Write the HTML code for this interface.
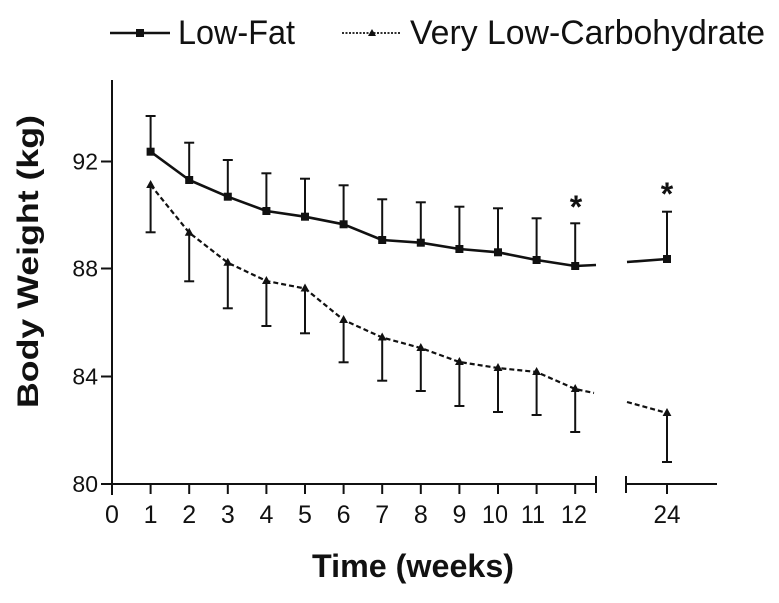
<!DOCTYPE html>
<html>
<head>
<meta charset="utf-8">
<style>
  html,body{margin:0;padding:0;background:#fff;}
  body{width:779px;height:603px;overflow:hidden;}
  svg{display:block;font-family:"Liberation Sans",Arial,sans-serif;}
</style>
</head>
<body>
<svg width="779" height="603" viewBox="0 0 779 603" xmlns="http://www.w3.org/2000/svg">
  <rect width="779" height="603" fill="#fff"/>

  <!-- Legend -->
  <line x1="110" y1="33" x2="170" y2="33" stroke="#111" stroke-width="2.5"/>
  <rect x="136" y="29" width="8" height="8" fill="#111"/>
  <text x="178" y="44" font-size="34" fill="#111" textLength="117" lengthAdjust="spacingAndGlyphs">Low-Fat</text>
  <line x1="342" y1="33" x2="400" y2="33" stroke="#111" stroke-width="1.8" stroke-dasharray="2,1.5"/>
  <polygon points="372,29 376,36 368,36" fill="#111"/>
  <text x="410" y="44" font-size="34" fill="#111" textLength="355" lengthAdjust="spacingAndGlyphs">Very Low-Carbohydrate</text>

  <!-- Axes -->
  <g stroke="#111" stroke-width="2" fill="none">
    <line x1="112" y1="80" x2="112" y2="495"/>
    <line x1="101" y1="484" x2="596" y2="484"/>
    <line x1="596" y1="476" x2="596" y2="493"/>
    <line x1="626" y1="484" x2="717" y2="484"/>
    <line x1="626" y1="476" x2="626" y2="493"/>
    <line x1="101" y1="161.5" x2="112" y2="161.5"/>
    <line x1="101" y1="268.5" x2="112" y2="268.5"/>
    <line x1="101" y1="376.5" x2="112" y2="376.5"/>
    <line x1="150.6" y1="484" x2="150.6" y2="494"/>
    <line x1="189.2" y1="484" x2="189.2" y2="494"/>
    <line x1="227.8" y1="484" x2="227.8" y2="494"/>
    <line x1="266.4" y1="484" x2="266.4" y2="494"/>
    <line x1="305" y1="484" x2="305" y2="494"/>
    <line x1="343.6" y1="484" x2="343.6" y2="494"/>
    <line x1="382.2" y1="484" x2="382.2" y2="494"/>
    <line x1="420.8" y1="484" x2="420.8" y2="494"/>
    <line x1="459.4" y1="484" x2="459.4" y2="494"/>
    <line x1="498" y1="484" x2="498" y2="494"/>
    <line x1="536.6" y1="484" x2="536.6" y2="494"/>
    <line x1="575.2" y1="484" x2="575.2" y2="494"/>
    <line x1="667" y1="484" x2="667" y2="494"/>
  </g>

  <!-- Y tick labels -->
  <g font-size="23" fill="#111" text-anchor="end">
    <text x="98" y="169.5">92</text>
    <text x="98" y="276.5">88</text>
    <text x="98" y="384.5">84</text>
    <text x="98" y="492">80</text>
  </g>

  <!-- X tick labels -->
  <g font-size="25" fill="#111" text-anchor="middle">
    <text x="112" y="523">0</text>
    <text x="150.6" y="523">1</text>
    <text x="189.2" y="523">2</text>
    <text x="227.8" y="523">3</text>
    <text x="266.4" y="523">4</text>
    <text x="305" y="523">5</text>
    <text x="343.6" y="523">6</text>
    <text x="382.2" y="523">7</text>
    <text x="420.8" y="523">8</text>
    <text x="459.4" y="523">9</text>
    <text x="495" y="523" textLength="26" lengthAdjust="spacingAndGlyphs">10</text>
    <text x="533" y="523" textLength="24" lengthAdjust="spacingAndGlyphs">11</text>
    <text x="574" y="523" textLength="26" lengthAdjust="spacingAndGlyphs">12</text>
    <text x="667" y="523" textLength="27" lengthAdjust="spacingAndGlyphs">24</text>
  </g>

  <!-- Axis titles -->
  <text x="312" y="577" font-size="32" font-weight="bold" fill="#111" textLength="202" lengthAdjust="spacingAndGlyphs">Time (weeks)</text>
  <text transform="translate(38,408) rotate(-90)" x="0" y="0" font-size="30" font-weight="bold" fill="#111" textLength="293" lengthAdjust="spacingAndGlyphs">Body Weight (kg)</text>

  <!-- Low-Fat error bars (up) -->
  <g stroke="#111" stroke-width="2">
    <line x1="150.6" y1="151.7" x2="150.6" y2="116"/><line x1="145.6" y1="116" x2="155.6" y2="116"/>
    <line x1="189.2" y1="180" x2="189.2" y2="142.7"/><line x1="184.2" y1="142.7" x2="194.2" y2="142.7"/>
    <line x1="227.8" y1="196.7" x2="227.8" y2="160"/><line x1="222.8" y1="160" x2="232.8" y2="160"/>
    <line x1="266.4" y1="211" x2="266.4" y2="173.3"/><line x1="261.4" y1="173.3" x2="271.4" y2="173.3"/>
    <line x1="305" y1="216.7" x2="305" y2="178.7"/><line x1="300" y1="178.7" x2="310" y2="178.7"/>
    <line x1="343.6" y1="224.3" x2="343.6" y2="185.3"/><line x1="338.6" y1="185.3" x2="348.6" y2="185.3"/>
    <line x1="382.2" y1="240" x2="382.2" y2="199.3"/><line x1="377.2" y1="199.3" x2="387.2" y2="199.3"/>
    <line x1="420.8" y1="242.7" x2="420.8" y2="202.3"/><line x1="415.8" y1="202.3" x2="425.8" y2="202.3"/>
    <line x1="459.4" y1="249" x2="459.4" y2="206.7"/><line x1="454.4" y1="206.7" x2="464.4" y2="206.7"/>
    <line x1="498" y1="252.3" x2="498" y2="208.3"/><line x1="493" y1="208.3" x2="503" y2="208.3"/>
    <line x1="536.6" y1="260" x2="536.6" y2="218.3"/><line x1="531.6" y1="218.3" x2="541.6" y2="218.3"/>
    <line x1="575.2" y1="266" x2="575.2" y2="223.3"/><line x1="570.2" y1="223.3" x2="580.2" y2="223.3"/>
    <line x1="667" y1="259" x2="667" y2="211.7"/><line x1="662" y1="211.7" x2="672" y2="211.7"/>
  </g>

  <!-- VLC error bars (down) -->
  <g stroke="#111" stroke-width="2">
    <line x1="150.6" y1="185" x2="150.6" y2="232.3"/><line x1="145.6" y1="232.3" x2="155.6" y2="232.3"/>
    <line x1="189.2" y1="232.7" x2="189.2" y2="281.3"/><line x1="184.2" y1="281.3" x2="194.2" y2="281.3"/>
    <line x1="227.8" y1="262.7" x2="227.8" y2="308.3"/><line x1="222.8" y1="308.3" x2="232.8" y2="308.3"/>
    <line x1="266.4" y1="281" x2="266.4" y2="326"/><line x1="261.4" y1="326" x2="271.4" y2="326"/>
    <line x1="305" y1="288.5" x2="305" y2="333.3"/><line x1="300" y1="333.3" x2="310" y2="333.3"/>
    <line x1="343.6" y1="320" x2="343.6" y2="362.3"/><line x1="338.6" y1="362.3" x2="348.6" y2="362.3"/>
    <line x1="382.2" y1="337.5" x2="382.2" y2="380.7"/><line x1="377.2" y1="380.7" x2="387.2" y2="380.7"/>
    <line x1="420.8" y1="348" x2="420.8" y2="391"/><line x1="415.8" y1="391" x2="425.8" y2="391"/>
    <line x1="459.4" y1="362" x2="459.4" y2="406"/><line x1="454.4" y1="406" x2="464.4" y2="406"/>
    <line x1="498" y1="368" x2="498" y2="412"/><line x1="493" y1="412" x2="503" y2="412"/>
    <line x1="536.6" y1="372" x2="536.6" y2="415"/><line x1="531.6" y1="415" x2="541.6" y2="415"/>
    <line x1="575.2" y1="389" x2="575.2" y2="432"/><line x1="570.2" y1="432" x2="580.2" y2="432"/>
    <line x1="667" y1="413" x2="667" y2="462"/><line x1="662" y1="462" x2="672" y2="462"/>
  </g>

  <!-- Low-Fat line -->
  <polyline fill="none" stroke="#111" stroke-width="2.6" stroke-linejoin="round"
    points="150.6,151.7 189.2,180 227.8,196.7 266.4,211 305,216.7 343.6,224.3 382.2,240 420.8,242.7 459.4,249 498,252.3 536.6,260 575.2,266 596,265"/>
  <polyline fill="none" stroke="#111" stroke-width="2.6" points="627,262 667,259"/>
  <g fill="#111">
    <rect x="146.6" y="147.7" width="8" height="8"/>
    <rect x="185.2" y="176" width="8" height="8"/>
    <rect x="223.8" y="192.7" width="8" height="8"/>
    <rect x="262.4" y="207" width="8" height="8"/>
    <rect x="301" y="212.7" width="8" height="8"/>
    <rect x="339.6" y="220.3" width="8" height="8"/>
    <rect x="378.2" y="236" width="8" height="8"/>
    <rect x="416.8" y="238.7" width="8" height="8"/>
    <rect x="455.4" y="245" width="8" height="8"/>
    <rect x="494" y="248.3" width="8" height="8"/>
    <rect x="532.6" y="256" width="8" height="8"/>
    <rect x="571.2" y="262" width="8" height="8"/>
    <rect x="663" y="255" width="8" height="8"/>
  </g>

  <!-- VLC line -->
  <polyline fill="none" stroke="#111" stroke-width="2.2" stroke-dasharray="5,3"
    points="150.6,185 189.2,232.7 227.8,262.7 266.4,281 305,288.5 343.6,320 382.2,337.5 420.8,348 459.4,362 498,368 536.6,372 575.2,389 594,393"/>
  <polyline fill="none" stroke="#111" stroke-width="2.2" stroke-dasharray="5,3" points="627,402 667,413"/>
  <g fill="#111">
    <polygon points="150.6,180 155,188 146.2,188"/>
    <polygon points="189.2,227.7 193.6,235.7 184.8,235.7"/>
    <polygon points="227.8,257.7 232.2,265.7 223.4,265.7"/>
    <polygon points="266.4,276 270.8,284 262,284"/>
    <polygon points="305,283.5 309.4,291.5 300.6,291.5"/>
    <polygon points="343.6,315 348,323 339.2,323"/>
    <polygon points="382.2,332.5 386.6,340.5 377.8,340.5"/>
    <polygon points="420.8,343 425.2,351 416.4,351"/>
    <polygon points="459.4,357 463.8,365 455,365"/>
    <polygon points="498,363 502.4,371 493.6,371"/>
    <polygon points="536.6,367 541,375 532.2,375"/>
    <polygon points="575.2,384 579.6,392 570.8,392"/>
    <polygon points="667,408 671.4,416 662.6,416"/>
  </g>

  <!-- Asterisks -->
  <g font-size="32" font-weight="bold" fill="#111" text-anchor="middle">
    <text x="576" y="218">*</text>
    <text x="667" y="205">*</text>
  </g>
</svg>
</body>
</html>
